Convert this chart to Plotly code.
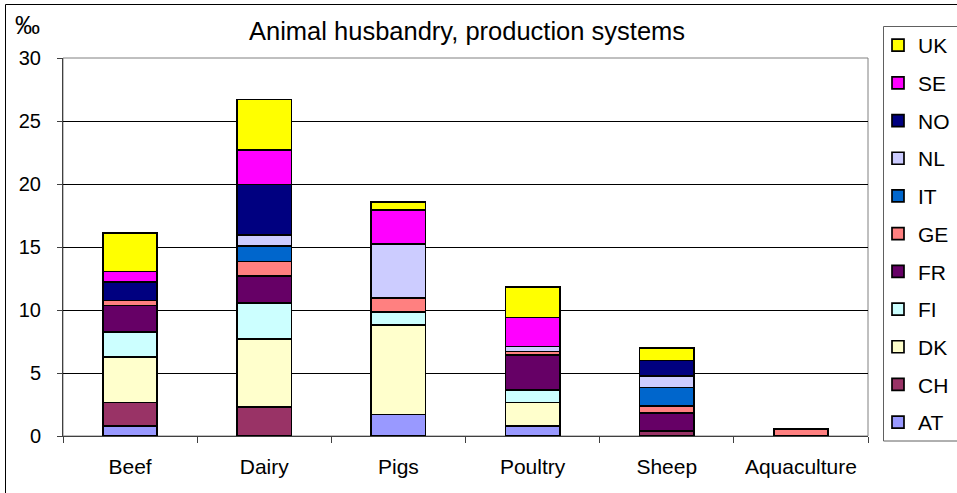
import plotly.graph_objects as go

# Production systems (per mille), stacked by country
categories = ["Beef", "Dairy", "Pigs", "Poultry", "Sheep", "Aquaculture"]
countries = ["AT", "CH", "DK", "FI", "FR", "GE", "IT", "NL", "NO", "SE", "UK"]

AT = [0.8, 0.0, 1.7, 0.8, 0.0, 0.0]
CH = [1.85, 2.3, 0.0, 0.0, 0.4, 0.0]
DK = [3.6, 5.4, 7.1, 1.85, 0.0, 0.0]
FI = [2.0, 2.85, 1.05, 1.0, 0.0, 0.0]
FR = [2.1, 2.15, 0.0, 2.8, 1.45, 0.0]
GE = [0.4, 1.15, 1.1, 0.25, 0.55, 0.55]
IT = [0.0, 1.25, 0.0, 0.0, 1.45, 0.0]
NL = [0.0, 0.85, 4.3, 0.4, 0.9, 0.0]
NO = [1.5, 4.0, 0.0, 0.0, 1.25, 0.0]
SE = [0.8, 2.75, 2.7, 2.3, 0.0, 0.0]
UK = [3.05, 4.0, 0.6, 2.4, 1.0, 0.0]

series = [AT, CH, DK, FI, FR, GE, IT, NL, NO, SE, UK]
colors = ["#9999FF", "#993366", "#FFFFCC", "#CCFFFF", "#660066", "#FF8080",
          "#0066CC", "#CCCCFF", "#000080", "#FF00FF", "#FFFF00"]

y_ticks = [0, 5, 10, 15, 20, 25, 30]

FONT = "Liberation Sans, Arial, sans-serif"

W, H = 957, 493
L, R, T, B = 63, 89, 58, 57
pw, ph = W - L - R, H - T - B


def px(x):
    return (x - L) / pw


def py(y):
    return 1 - (y - T) / ph


fig = go.Figure()
n = len(countries)
for i, (name, vals, col) in enumerate(zip(countries, series, colors)):
    fig.add_trace(go.Bar(
        x=categories, y=vals, name=name, legendgroup=name,
        legendrank=n - i,  # top of the stack listed first
        marker=dict(color=col, line=dict(color="#000000", width=1.7)),
    ))

fig.update_layout(
    width=W, height=H,
    margin=dict(l=L, r=R, t=T, b=B, autoexpand=False),
    barmode="stack", bargap=0.595,
    paper_bgcolor="white", plot_bgcolor="white",
    font=dict(family=FONT, color="#000000", size=20),
    showlegend=True,
    legend=dict(
        x=px(878), y=py(25), xanchor="left", yanchor="top",
        traceorder="grouped", tracegroupgap=7.4,
        font=dict(size=21, family=FONT),
        borderwidth=0, bgcolor="rgba(0,0,0,0)",
        maxheight=480, itemclick=False,
    ),
    xaxis=dict(
        showline=True, linecolor="#404040", linewidth=1,
        ticks="outside", ticklen=6, tickcolor="#404040",
        tickson="boundaries", tickfont=dict(size=21),
        ticklabelstandoff=12,
        showgrid=False,
    ),
    yaxis=dict(
        range=[0, 30], tickvals=y_ticks,
        showline=True, linecolor="#404040", linewidth=1,
        ticks="outside", ticklen=5, tickcolor="#404040",
        tickfont=dict(size=20), ticklabelstandoff=12,
        showgrid=True, gridcolor="#000000", gridwidth=1,
        zeroline=False,
    ),
    shapes=[
        # plot-area frame
        dict(type="rect", xref="paper", yref="paper", x0=0, y0=0, x1=1, y1=1,
             line=dict(color="#808080", width=1), layer="below"),
        # chart frame
        dict(type="rect", xref="paper", yref="paper",
             x0=px(5.5), y0=py(H + 20), x1=px(W + 20), y1=py(4.5),
             line=dict(color="#000000", width=1), layer="below"),
        # legend frame
        dict(type="rect", xref="paper", yref="paper",
             x0=px(883.5), y0=py(441), x1=px(W + 20), y1=py(26.5),
             line=dict(color="#606060", width=1), fillcolor="white", layer="below"),
    ],
    annotations=[
        dict(text="Animal husbandry, production systems", xref="paper", yref="paper",
             x=px(467), y=py(31), xanchor="center", yanchor="middle",
             showarrow=False, font=dict(size=25.5, family=FONT)),
        dict(text="‰", xref="paper", yref="paper",
             x=px(27), y=py(25), xanchor="center", yanchor="middle",
             showarrow=False, font=dict(size=25, family=FONT)),
    ],
)

fig.write_html("out.html")
